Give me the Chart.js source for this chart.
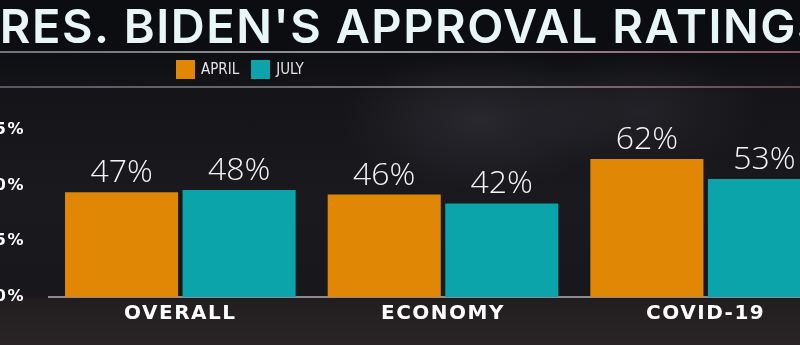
<!DOCTYPE html>
<html>
<head>
<meta charset="utf-8">
<script src="https://cdn.jsdelivr.net/npm/chart.js@4.4.0/dist/chart.umd.min.js"></script>
<style>
  html, body { margin: 0; padding: 0; }
  body {
    width: 800px; height: 345px; overflow: hidden; position: relative;
    background: #121216;
  }
  #bg {
    position: absolute; left: 0; top: 0; width: 800px; height: 345px;
    background:
      radial-gradient(ellipse 140px 70px at 480px 120px, rgba(80,80,90,0.3), rgba(0,0,0,0)),
      radial-gradient(ellipse 120px 60px at 640px 110px, rgba(70,70,80,0.25), rgba(0,0,0,0)),
      linear-gradient(to bottom, #0b0c0f 0px, #0d0e12 50px, #151519 90px, #19191e 200px, #18171b 296px, #221e20 300px, #2a2426 345px);
  }
  .band { position: absolute; left: 0; width: 800px; height: 2px; }
  #line1 { top: 51px; background: linear-gradient(to right, rgba(190,195,205,0.55), rgba(210,210,215,0.7) 50%, rgba(200,120,130,0.7)); }
  #line2 { top: 86px; background: linear-gradient(to right, rgba(150,155,165,0.5), rgba(200,200,205,0.55) 60%, rgba(170,120,125,0.5)); }
  #legend {
    position: absolute; top: 59px; left: 176px; height: 20px;
    font-family: "DejaVu Sans Condensed", "Liberation Sans Narrow", sans-serif;
    font-size: 15px; color: #e4e4e4; display: flex; align-items: center;
  }
  #legend .sw { display: inline-block; width: 19px; height: 19px; margin-right: 6px; }
  #legend .item { display: flex; align-items: center; margin-right: 12px; }
  #wrap { position: absolute; left: -40px; top: 0; width: 880px; height: 345px; }
</style>
</head>
<body>
<div id="bg"></div>
<div class="band" id="line1"></div>
<div class="band" id="line2"></div>
<div id="wrap"><canvas id="grafico" width="880" height="345"></canvas></div>
<div id="legend"></div>
<script>
// dados do gráfico
const categorias = ['OVERALL', 'ECONOMY', 'COVID-19'];
const series = ['APRIL', 'JULY'];
const valoresAbril = [47, 46, 62];
const valoresJulho = [48, 42, 53];
const ticksY = [0, 25, 50, 75];
const cores = ['#e08806', '#0ba4aa'];

// legenda em HTML
const legenda = document.getElementById('legend');
series.forEach((s, i) => {
  const item = document.createElement('span');
  item.className = 'item';
  item.innerHTML = '<span class="sw" style="background:' + cores[i] + '"></span>' + s;
  legenda.appendChild(item);
});

// espaçamento entre letras para título e eixos
const espacamento = {
  id: 'espacamento',
  beforeDraw(chart) { chart.ctx.letterSpacing = '1.5px'; },
  afterDraw(chart) { chart.ctx.letterSpacing = '0px'; }
};

// rótulos de valor acima das barras
const rotulos = {
  id: 'rotulos',
  afterDatasetsDraw(chart) {
    const ctx = chart.ctx;
    ctx.save();
    ctx.letterSpacing = '0px';
    ctx.fillStyle = '#f4f4f4';
    ctx.font = '300 32px "Open Sans", sans-serif';
    ctx.textAlign = 'center';
    ctx.textBaseline = 'alphabetic';
    chart.data.datasets.forEach((ds, i) => {
      chart.getDatasetMeta(i).data.forEach((bar, j) => {
        ctx.fillText(ds.data[j] + '%', bar.x, bar.y - 10);
      });
    });
    ctx.restore();
  }
};

const ctx = document.getElementById('grafico').getContext('2d');
new Chart(ctx, {
  type: 'bar',
  data: {
    labels: categorias,
    datasets: [
      { label: series[0], data: valoresAbril, backgroundColor: cores[0] },
      { label: series[1], data: valoresJulho, backgroundColor: cores[1] }
    ]
  },
  options: {
    responsive: false,
    animation: false,
    devicePixelRatio: 1,
    layout: { padding: { left: 0, right: 3, top: 0, bottom: 0 } },
    datasets: { bar: { categoryPercentage: 0.895, barPercentage: 0.962 } },
    plugins: {
      legend: { display: false },
      tooltip: { enabled: false },
      title: {
        display: true,
        text: "PRES. BIDEN'S APPROVAL RATINGS",
        color: '#e9f6f7',
        font: { family: 'Inter', size: 47, weight: '600', lineHeight: 1.0 },
        padding: { top: 5, bottom: 78 }
      }
    },
    scales: {
      x: {
        grid: { display: false, drawTicks: false },
        border: { display: true, color: '#8c8c8e', width: 2 },
        ticks: {
          color: '#ffffff',
          padding: 5,
          font: { family: 'DejaVu Sans', size: 20, weight: 'bold' }
        },
        afterFit(scale) { scale.height = 48; }
      },
      y: {
        min: 0,
        max: 75,
        grid: { display: false, drawTicks: false },
        border: { display: false },
        afterBuildTicks(scale) { scale.ticks = ticksY.map(v => ({ value: v })); },
        ticks: {
          color: '#ffffff',
          padding: 24,
          font: { family: 'DejaVu Sans', size: 16, weight: 'bold' },
          callback: v => v + '%'
        },
        afterFit(scale) { scale.width = 89; }
      }
    }
  },
  plugins: [espacamento, rotulos]
});
</script>
</body>
</html>
